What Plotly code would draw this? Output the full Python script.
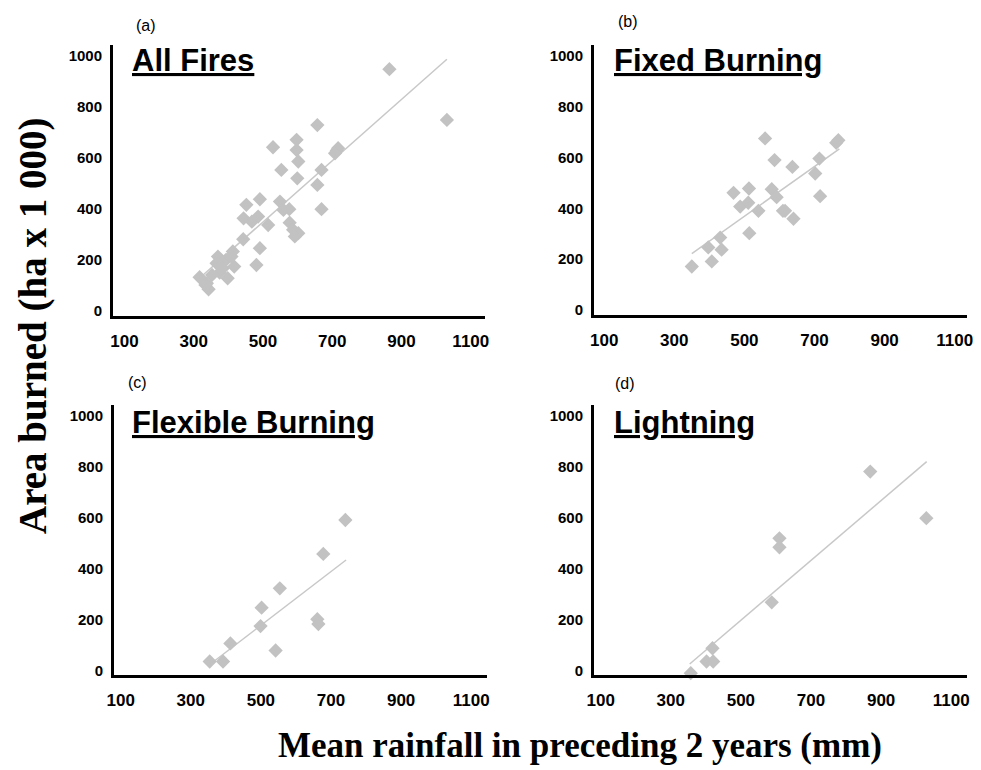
import plotly.graph_objects as go

W, H = 981, 770
OFF = 8  # page body margin of the default HTML page
FW, FH = W - OFF, H - OFF

# ---------------- data ----------------
all_x = [865, 1031, 657, 529, 597, 597, 602, 599, 713, 717, 708, 553, 669, 657, 669,
         491, 452, 444, 468, 486, 515, 549, 559, 576, 577, 587, 602, 592, 443, 491,
         481, 370, 413, 393, 384, 398, 417, 375, 353, 317, 334, 343, 338, 366, 409]
all_y = [948, 749, 729, 642, 671, 631, 586, 520, 629, 638, 618, 553, 553, 494, 399,
         438, 416, 363, 350, 370, 337, 429, 396, 399, 346, 318, 305, 292, 281, 246,
         180, 213, 233, 200, 167, 128, 174, 150, 141, 132, 102, 85, 108, 187, 213]
all_trend_x = [327, 1031]
all_trend_y = [141, 987]

fixed_x = [350, 397, 407, 431, 435, 469, 488, 511, 513, 514, 540, 559, 586, 578,
           592, 610, 616, 637, 640, 702, 714, 716, 762, 768]
fixed_y = [171, 246, 191, 285, 237, 461, 407, 422, 478, 302, 390, 675, 590, 475,
           444, 390, 390, 563, 359, 537, 596, 448, 658, 668]
fixed_trend_x = [350, 771]
fixed_trend_y = [222, 634]

flex_x = [354, 392, 413, 502, 499, 542, 554, 661, 664, 678, 741]
flex_y = [37, 37, 108, 248, 176, 80, 324, 203, 184, 459, 592]
flex_trend_x = [359, 743]
flex_trend_y = [30, 435]

light_x = [357, 362, 402, 421, 419, 588, 610, 610, 869, 1029]
light_y = [-9, -24, 37, 37, 89, 269, 520, 485, 782, 599]
light_trend_x = [354, 1030]
light_trend_y = [27, 821]

panel_titles = ["All Fires", "Fixed Burning", "Flexible Burning", "Lightning"]
panel_letters = ["(a)", "(b)", "(c)", "(d)"]
x_ticks = [100, 300, 500, 700, 900, 1100]
y_ticks = [0, 200, 400, 600, 800, 1000]
x_title = "Mean rainfall in preceding 2 years (mm)"
y_title = "Area burned (ha x 1 000)"

series = [
    (all_x, all_y, all_trend_x, all_trend_y),
    (fixed_x, fixed_y, fixed_trend_x, fixed_trend_y),
    (flex_x, flex_y, flex_trend_x, flex_trend_y),
    (light_x, light_y, light_trend_x, light_trend_y),
]

# ---------------- layout geometry (window pixels) ----------------
def px(x):
    return (x - OFF) / FW

def py(y):
    return 1 - (y - OFF) / FH

x_domains = [(113, 485), (594, 967), (114, 487), (594, 967)]
y_domains = [(45, 316), (45, 315), (405, 675), (405, 675)]
x_ranges = [(67, 1141), (71, 1135), (81, 1145), (81, 1145)]
y_ranges = [(-20, 1043), (-20, 1043), (-16, 1043), (-16, 1043)]

MARK = "#c2c2c2"
LINE = "#c8c8c8"
SANS = "Liberation Sans, Arial, sans-serif"
SERIF = "Liberation Serif, Times New Roman, serif"

fig = go.Figure()
layout = {}
for i, (sx, sy, tx, ty) in enumerate(series):
    n = "" if i == 0 else str(i + 1)
    fig.add_trace(go.Scatter(x=tx, y=ty, mode="lines",
                             line=dict(color=LINE, width=1.5),
                             xaxis="x" + n, yaxis="y" + n, showlegend=False,
                             hoverinfo="skip"))
    fig.add_trace(go.Scatter(x=sx, y=sy, mode="markers",
                             marker=dict(symbol="diamond", size=11, color=MARK,
                                         line=dict(width=0)),
                             cliponaxis=False,
                             xaxis="x" + n, yaxis="y" + n, showlegend=False))
    xd, yd = x_domains[i], y_domains[i]
    layout["xaxis" + n] = dict(
        domain=[px(xd[0]), px(xd[1])], range=list(x_ranges[i]),
        anchor="y" + n, showline=True, linecolor="black", linewidth=3,
        showgrid=False, zeroline=False, ticks="", tickvals=x_ticks,
        ticklabelstandoff=8, automargin=False,
        tickfont=dict(family=SANS, size=17, color="black", weight="bold"))
    layout["yaxis" + n] = dict(
        domain=[py(yd[1]), py(yd[0])], range=list(y_ranges[i]),
        anchor="x" + n, showline=True, linecolor="black", linewidth=3,
        showgrid=False, zeroline=False, ticks="", tickvals=y_ticks,
        ticklabelstandoff=5, automargin=False,
        tickfont=dict(family=SANS, size=15, color="black", weight="bold"))

title_pos = [(130, 61), (612, 61), (130, 422), (612, 422)]
letter_pos = [(146, 25), (628, 21), (137, 382), (625, 383)]
annotations = []
for i in range(4):
    annotations.append(dict(
        text="<b><u>" + panel_titles[i] + "</u></b>", xref="paper", yref="paper",
        x=px(title_pos[i][0]), y=py(title_pos[i][1]), xanchor="left", yanchor="middle",
        showarrow=False, font=dict(family=SANS, size=31, color="black")))
    annotations.append(dict(
        text=panel_letters[i], xref="paper", yref="paper",
        x=px(letter_pos[i][0]), y=py(letter_pos[i][1]), xanchor="center", yanchor="middle",
        showarrow=False, font=dict(family=SANS, size=16, color="black")))

annotations.append(dict(
    text="<b>" + y_title + "</b>", xref="paper", yref="paper",
    x=px(33), y=py(326), xanchor="center", yanchor="middle", textangle=-90,
    showarrow=False, font=dict(family=SERIF, size=39, color="black")))
annotations.append(dict(
    text="<b>" + x_title + "</b>", xref="paper", yref="paper",
    x=px(580), y=py(745), xanchor="center", yanchor="middle",
    showarrow=False, font=dict(family=SERIF, size=35, color="black")))

fig.update_layout(
    template="none",
    width=FW, height=FH, margin=dict(l=0, r=0, t=0, b=0, pad=0),
    paper_bgcolor="white", plot_bgcolor="white",
    annotations=annotations, **layout)

fig.write_html("out.html")
